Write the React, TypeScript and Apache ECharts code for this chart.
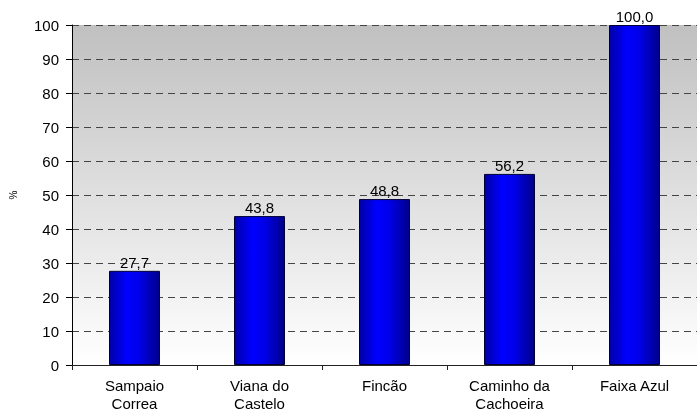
import React, { useEffect, useRef } from "react";
import * as echarts from "echarts";

const categories = [
  "Sampaio\nCorrea",
  "Viana do\nCastelo",
  "Fincão",
  "Caminho da\nCachoeira",
  "Faixa Azul",
];
const values = [27.7, 43.8, 48.8, 56.2, 100.0];
const yTicks = { min: 0, max: 100, interval: 10 };

const FONT = "'Liberation Sans', Arial, sans-serif";

export default function App() {
  const ref = useRef<HTMLDivElement>(null);

  useEffect(() => {
    document.body.style.margin = "0";
    const chart = echarts.init(ref.current!, null, { renderer: "svg" });
    chart.setOption({
      animation: false,
      textStyle: { fontFamily: FONT },
      grid: {
        left: 71,
        right: 0,
        top: 25,
        bottom: 49,
        show: true,
        borderWidth: 0,
        backgroundColor: new echarts.graphic.LinearGradient(0, 0, 0, 1, [
          { offset: 0, color: "#c0c0c0" },
          { offset: 1, color: "#ffffff" },
        ]),
      },
      xAxis: {
        type: "category",
        data: categories,
        axisLine: { lineStyle: { color: "#222", width: 1 } },
        axisTick: { show: true, length: 5, lineStyle: { color: "#222" } },
        axisLabel: {
          color: "#000",
          fontSize: 15,
          lineHeight: 18,
          margin: 11,
          fontFamily: FONT,
          interval: 0,
        },
      },
      yAxis: {
        type: "value",
        min: yTicks.min,
        max: yTicks.max,
        interval: yTicks.interval,
        name: "%",
        nameLocation: "middle",
        nameRotate: 90,
        nameGap: 54,
        nameTextStyle: { fontSize: 10, color: "#000", fontFamily: FONT },
        axisLine: { show: true, lineStyle: { color: "#000", width: 1 } },
        axisTick: { show: true, length: 6, lineStyle: { color: "#000" } },
        axisLabel: {
          color: "#000",
          fontSize: 15,
          margin: 13,
          fontFamily: FONT,
        },
        splitLine: {
          show: true,
          lineStyle: { color: "#444", type: [7, 5], width: 1 },
        },
      },
      series: [
        {
          type: "bar",
          data: values,
          barWidth: 51,
          itemStyle: {
            color: new echarts.graphic.LinearGradient(0, 0, 1, 0, [
              { offset: 0, color: "#0000a8" },
              { offset: 0.35, color: "#0000ff" },
              { offset: 0.6, color: "#0000e8" },
              { offset: 1, color: "#00008a" },
            ]),
            borderColor: "#000033",
            borderWidth: 1,
          },
          label: {
            show: true,
            position: "top",
            distance: 1,
            color: "#000",
            fontSize: 15,
            fontFamily: FONT,
            formatter: (p: any) => p.value.toFixed(1).replace(".", ","),
          },
        },
      ],
    });
    return () => chart.dispose();
  }, []);

  return (
    <div
      ref={ref}
      style={{ position: "fixed", left: 0, top: 0, width: 697, height: 414 }}
    />
  );
}
